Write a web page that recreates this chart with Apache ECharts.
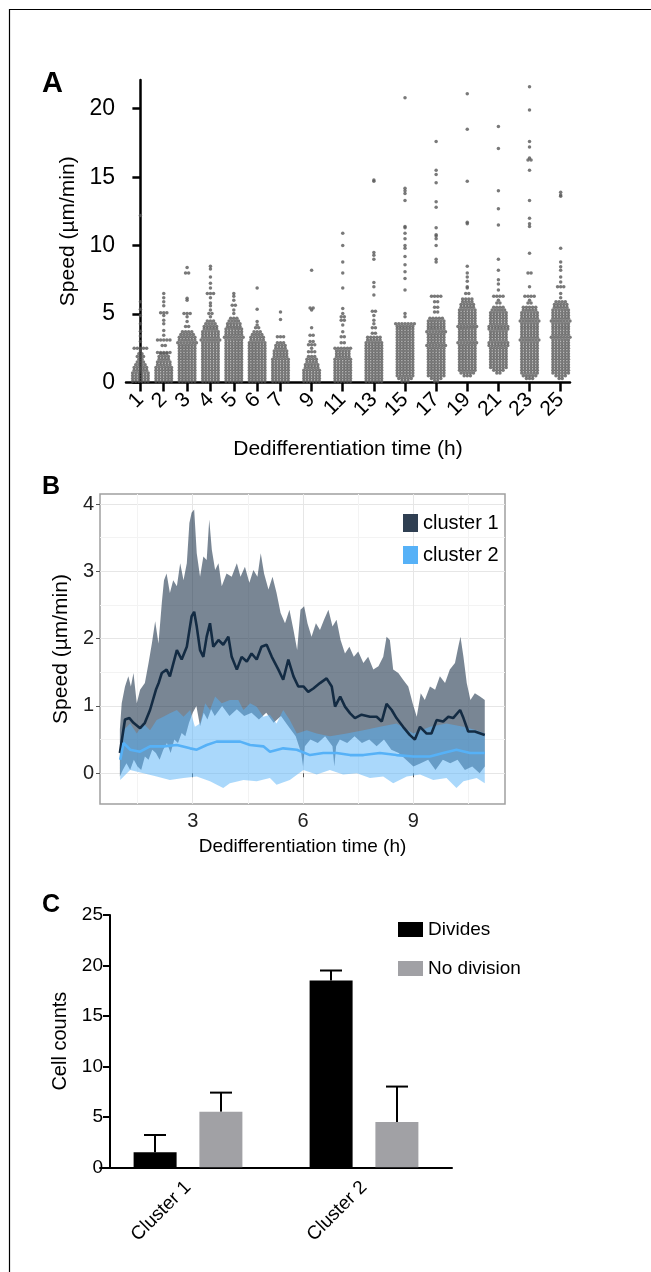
<!DOCTYPE html>
<html>
<head>
<meta charset="utf-8">
<script src="https://cdn.jsdelivr.net/npm/echarts@6/dist/echarts.min.js"></script>
<style>
html, body { margin: 0; padding: 0; background: #fff; }
#chart { width: 651px; height: 1272px; }
</style>
</head>
<body>
<div id="chart"></div>
<script>
// ---------- A: speed of each cell per time point ----------
const hourLabels = ['1', '2', '3', '4', '5', '6', '7', '9', '11', '13', '15', '17', '19', '21', '23', '25'];
const hourPos = [0, 3, 6, 9, 12, 15, 18, 22, 26, 30, 34, 38, 42, 46, 50, 54];
// speed levels of the packed rows (um/min)
const binLevels = [0.1, 0.3, 0.5, 0.7, 0.9, 1.1, 1.3, 1.5, 1.7, 1.9, 2.1, 2.3, 2.5, 2.7, 2.9,
  3.1, 3.3, 3.5, 3.7, 3.9, 4.1, 4.3, 4.5, 4.7, 4.9, 5.1, 5.3, 5.5, 5.7, 5.9, 6.1];
// number of cells in each row, one list per time point
const denseCounts = [
  [6, 6, 6, 6, 5, 5, 4, 3, 2, 3, 2, 1],                                   // 1 h
  [6, 6, 6, 6, 6, 6, 5, 5, 4, 4, 3],                                      // 2 h
  [6, 6, 6, 6, 6, 6, 6, 6, 6, 6, 6, 6, 6, 6, 7, 6, 6, 5, 4],              // 3 h
  [6, 6, 6, 6, 6, 6, 6, 6, 6, 6, 6, 6, 6, 6, 6, 7, 6, 6, 6, 5, 5, 4, 3],  // 4 h
  [6, 6, 6, 6, 6, 6, 6, 6, 6, 6, 6, 6, 6, 6, 6, 6, 7, 6, 6, 6, 5, 5, 4, 3], // 5 h
  [6, 6, 6, 6, 6, 6, 6, 6, 6, 6, 6, 6, 6, 6, 6, 5, 5, 4, 3],              // 6 h
  [6, 6, 6, 6, 6, 6, 6, 6, 6, 5, 5, 5, 4, 4, 3],                          // 7 h
  [6, 6, 6, 6, 6, 5, 5, 4, 4, 3],                                         // 9 h
  [6, 6, 6, 6, 6, 6, 6, 6, 6, 5, 5, 5, 6],                                // 11 h
  [6, 6, 6, 6, 6, 6, 6, 6, 6, 6, 6, 6, 6, 6, 6, 5, 5],                    // 13 h
  [3, 5, 6, 6, 6, 6, 6, 6, 6, 6, 6, 6, 6, 6, 6, 6, 6, 6, 6, 6, 6, 7],     // 15 h
  [2, 4, 6, 6, 6, 6, 6, 6, 6, 6, 6, 6, 6, 7, 6, 6, 6, 6, 7, 6, 6, 6, 6, 5], // 17 h
  [0, 0, 3, 5, 6, 6, 6, 6, 6, 6, 6, 6, 6, 6, 7, 6, 6, 6, 6, 6, 7, 6, 6, 6, 6, 6, 6, 5, 5, 4, 4], // 19 h
  [0, 0, 0, 2, 4, 6, 6, 6, 6, 6, 6, 6, 6, 7, 7, 6, 6, 6, 6, 7, 7, 6, 6, 6, 6, 6, 5, 4],       // 21 h
  [0, 3, 5, 6, 6, 6, 6, 6, 6, 6, 6, 6, 6, 6, 6, 7, 6, 6, 6, 6, 6, 6, 7, 6, 6, 6, 5, 5],       // 23 h
  [0, 2, 4, 6, 6, 6, 6, 6, 6, 6, 6, 6, 6, 6, 6, 6, 7, 6, 6, 6, 6, 6, 7, 6, 6, 6, 6, 5, 5, 4]  // 25 h
];
// cells above the packed part
const sparseSpeeds = [
  [2.5, 2.5, 2.5, 2.5, 2.5, 3.0, 3.4, 3.75, 4.3, 4.9, 5.35, 5.9, 12.2],
  [2.2, 2.2, 2.2, 2.2, 2.2, 2.7, 2.7, 3.1, 3.1, 3.1, 3.1, 3.1, 3.45, 3.8, 4.3, 4.55, 4.9, 5.1, 5.1, 5.1, 5.6, 5.9, 6.2, 6.5],
  [4.1, 4.1, 4.45, 4.8, 5.05, 5.05, 5.05, 6.0, 6.15, 8.0, 8.0, 8.4],
  [4.8, 5.05, 5.05, 5.3, 5.6, 5.8, 6.2, 6.5, 6.5, 6.5, 6.9, 7.25, 7.7, 8.3, 8.5],
  [5.05, 5.3, 5.65, 5.65, 6.0, 6.3, 6.5],
  [4.0, 4.0, 4.2, 4.45, 5.35, 6.9],
  [3.35, 3.35, 3.35, 4.6, 5.15],
  [2.25, 2.25, 2.25, 2.5, 2.75, 2.75, 2.75, 3.0, 3.0, 3.45, 3.45, 4.0, 5.3, 5.45, 5.45, 8.2],
  [2.9, 2.9, 3.35, 3.35, 3.7, 4.2, 4.55, 4.55, 4.8, 4.8, 5.05, 5.4, 6.9, 8.0, 8.8, 10.0, 10.9],
  [3.6, 3.6, 4.0, 4.0, 4.3, 4.55, 4.9, 5.2, 5.2, 6.4, 7.0, 7.3, 9.0, 9.3, 9.5, 14.7, 14.8],
  [4.8, 5.05, 6.75, 7.6, 8.1, 8.6, 9.2, 9.8, 10.0, 10.5, 10.9, 11.3, 11.4, 13.3, 13.8, 14.0, 14.2, 20.8],
  [5.15, 5.15, 5.5, 5.5, 5.9, 5.9, 6.3, 6.3, 6.3, 6.3, 8.8, 9.0, 10.0, 10.5, 10.7, 10.8, 11.3, 12.8, 13.2, 14.6, 15.2, 15.5, 17.6],
  [6.5, 6.5, 6.9, 7.0, 7.4, 7.7, 8.0, 8.5, 11.6, 11.7, 14.7, 18.5, 21.1],
  [5.8, 5.8, 6.0, 6.3, 6.3, 6.3, 6.3, 6.75, 7.2, 7.5, 8.2, 9.0, 11.5, 12.7, 14.0, 17.1, 18.7],
  [5.8, 5.8, 6.0, 6.3, 6.3, 6.3, 6.3, 7.0, 8.0, 8.0, 9.45, 11.4, 11.6, 12.0, 13.3, 15.5, 16.25, 16.25, 16.4, 17.2, 17.6, 19.9, 21.6],
  [6.2, 6.5, 7.0, 7.0, 7.0, 7.35, 7.7, 8.2, 8.45, 8.8, 9.8, 13.6, 13.7, 13.9]
];

// ---------- B: mean speed with spread, per cluster ----------
const c1Mean = [[1.02, 0.30], [1.16, 0.80], [1.28, 0.82], [1.39, 0.75], [1.57, 0.67], [1.70, 0.75], [1.84, 0.94],
  [2.00, 1.24], [2.08, 1.35], [2.16, 1.49], [2.29, 1.54], [2.38, 1.44], [2.57, 1.83], [2.70, 1.69], [2.84, 1.88],
  [2.97, 2.33], [3.04, 2.40], [3.11, 2.18], [3.20, 1.83], [3.29, 1.73], [3.38, 2.03], [3.47, 2.23], [3.56, 1.88],
  [3.70, 1.98], [3.83, 1.91], [3.97, 2.03], [4.06, 1.73], [4.20, 1.54], [4.33, 1.73], [4.47, 1.66], [4.60, 1.78],
  [4.74, 1.69], [4.87, 1.88], [5.01, 1.91], [5.15, 1.73], [5.33, 1.54], [5.46, 1.39], [5.60, 1.69], [5.74, 1.44],
  [5.87, 1.29], [6.01, 1.29], [6.14, 1.21], [6.28, 1.26], [6.46, 1.34], [6.64, 1.41], [6.78, 1.29], [6.87, 0.99],
  [7.01, 1.14], [7.14, 0.99], [7.28, 0.89], [7.41, 0.82], [7.59, 0.87], [7.82, 0.84], [8.00, 0.84], [8.14, 0.77],
  [8.27, 1.03], [8.41, 0.94], [8.54, 0.82], [8.72, 0.69], [8.90, 0.57], [9.04, 0.50], [9.18, 0.69], [9.36, 0.59],
  [9.49, 0.59], [9.63, 0.79], [9.81, 0.77], [9.95, 0.84], [10.08, 0.82], [10.27, 0.94], [10.36, 0.82], [10.49, 0.62],
  [10.67, 0.62], [10.94, 0.57]];
const c1Upper = [[1.02, 0.65], [1.07, 1.04], [1.16, 1.29], [1.25, 1.44], [1.32, 1.29], [1.39, 1.49], [1.48, 1.04],
  [1.57, 1.24], [1.70, 1.34], [1.80, 1.64], [1.89, 1.93], [1.98, 2.26], [2.07, 1.93], [2.16, 2.53], [2.22, 2.87],
  [2.29, 2.97], [2.38, 2.68], [2.47, 2.87], [2.57, 2.78], [2.66, 3.12], [2.75, 2.87], [2.84, 3.12], [2.91, 3.72],
  [2.97, 3.87], [3.04, 3.92], [3.11, 3.27], [3.20, 2.92], [3.29, 3.22], [3.38, 3.17], [3.45, 3.77], [3.52, 3.32],
  [3.61, 3.02], [3.70, 3.12], [3.79, 2.78], [3.92, 2.97], [4.06, 2.92], [4.20, 3.12], [4.30, 2.92], [4.42, 3.07],
  [4.54, 2.83], [4.65, 3.02], [4.76, 2.92], [4.85, 3.27], [4.94, 2.97], [5.06, 2.73], [5.17, 2.92], [5.28, 2.68],
  [5.39, 2.38], [5.51, 2.23], [5.63, 2.43], [5.74, 2.13], [5.84, 1.83], [5.93, 2.43], [6.03, 2.48], [6.12, 2.23],
  [6.23, 2.03], [6.35, 2.23], [6.46, 2.13], [6.57, 2.28], [6.69, 2.43], [6.80, 2.18], [6.91, 2.28], [7.02, 1.98],
  [7.14, 1.78], [7.26, 1.88], [7.38, 1.73], [7.50, 1.81], [7.64, 1.64], [7.77, 1.73], [7.91, 1.54], [8.05, 1.59],
  [8.18, 1.73], [8.27, 2.03], [8.36, 1.98], [8.45, 1.54], [8.59, 1.49], [8.72, 1.39], [8.86, 1.29], [8.98, 1.04],
  [9.09, 0.84], [9.20, 1.19], [9.31, 1.09], [9.45, 1.29], [9.59, 1.24], [9.72, 1.44], [9.86, 1.34], [9.99, 1.54],
  [10.13, 1.64], [10.22, 1.88], [10.28, 2.03], [10.36, 1.73], [10.45, 1.34], [10.55, 1.09], [10.67, 1.19],
  [10.81, 1.14], [10.94, 1.09]];
const c1Lower = [[1.02, -0.05], [1.1, 0.05], [1.2, 0.15], [1.3, 0.05], [1.4, 0.2], [1.5, 0.1], [1.6, 0.05], [1.7, 0.25],
  [1.8, 0.2], [1.9, 0.35], [2.0, 0.3], [2.1, 0.2], [2.2, 0.35], [2.3, 0.45], [2.4, 0.3], [2.5, 0.5], [2.6, 0.45],
  [2.7, 0.6], [2.8, 0.55], [2.9, 0.75], [3.0, 0.9], [3.1, 1.0], [3.2, 0.7], [3.3, 0.9], [3.4, 0.8], [3.5, 0.95],
  [3.6, 0.85], [3.8, 1.0], [4.0, 0.85], [4.2, 0.95], [4.4, 0.85], [4.6, 0.9], [4.8, 0.8], [5.0, 0.9], [5.2, 0.75],
  [5.4, 0.85], [5.6, 0.7], [5.8, 0.55], [5.95, 0.3], [6.0, 0.1], [6.05, 0.4], [6.2, 0.5], [6.4, 0.45], [6.6, 0.55],
  [6.8, 0.4], [6.85, 0.1], [6.9, 0.4], [7.0, 0.5], [7.2, 0.45], [7.4, 0.55], [7.6, 0.45], [7.8, 0.5], [8.0, 0.4],
  [8.2, 0.5], [8.4, 0.35], [8.6, 0.3], [8.8, 0.2], [9.0, 0.1], [9.2, 0.15], [9.4, 0.2], [9.6, 0.05], [9.8, 0.2],
  [10.0, 0.15], [10.2, 0.2], [10.4, 0.05], [10.6, 0.1], [10.8, 0.0], [10.94, 0.1]];
const c2Mean = [[1.03, 0.20], [1.12, 0.45], [1.30, 0.35], [1.57, 0.32], [1.84, 0.40], [2.20, 0.40], [2.57, 0.42],
  [2.93, 0.37], [3.11, 0.35], [3.38, 0.42], [3.65, 0.47], [4.01, 0.47], [4.29, 0.47], [4.56, 0.42], [4.92, 0.40],
  [5.10, 0.32], [5.46, 0.37], [5.83, 0.35], [6.19, 0.27], [6.55, 0.30], [6.91, 0.30], [7.28, 0.27], [7.64, 0.27],
  [8.09, 0.30], [8.54, 0.27], [9.00, 0.25], [9.45, 0.25], [9.81, 0.30], [10.17, 0.35], [10.54, 0.30], [10.94, 0.30]];
const c2Upper = [[1.03, 0.40], [1.12, 0.64], [1.30, 0.74], [1.48, 0.59], [1.66, 0.74], [1.84, 0.64], [2.02, 0.79],
  [2.20, 0.84], [2.38, 0.89], [2.57, 0.94], [2.75, 0.84], [2.93, 0.94], [3.06, 0.69], [3.20, 0.74], [3.34, 1.04],
  [3.47, 0.94], [3.61, 1.14], [3.79, 1.04], [4.01, 1.09], [4.24, 1.09], [4.38, 0.94], [4.56, 1.04], [4.74, 0.99],
  [4.92, 0.84], [5.10, 0.87], [5.28, 0.74], [5.46, 0.94], [5.64, 0.79], [5.83, 0.59], [6.10, 0.64], [6.37, 0.59],
  [6.73, 0.55], [7.18, 0.59], [7.64, 0.64], [8.09, 0.69], [8.54, 0.74], [9.00, 0.59], [9.45, 0.69], [9.90, 0.74],
  [10.36, 0.69], [10.72, 0.64], [10.94, 0.59]];
const c2Lower = [[1.03, -0.10], [1.30, 0.05], [1.66, 0.00], [2.02, -0.05], [2.38, -0.10], [2.75, -0.07], [3.11, -0.05],
  [3.47, -0.12], [3.83, -0.22], [4.01, -0.15], [4.38, -0.10], [4.74, -0.12], [5.10, -0.07], [5.28, -0.17],
  [5.64, -0.10], [6.01, 0.05], [6.37, -0.02], [6.73, 0.05], [7.09, -0.02], [7.46, 0.00], [7.82, -0.07],
  [8.18, -0.05], [8.45, -0.15], [8.82, -0.05], [9.18, -0.02], [9.54, -0.10], [9.90, -0.07], [10.17, -0.22],
  [10.36, -0.12], [10.72, -0.07], [10.94, -0.15]];

// ---------- C: cell counts ----------
const clusterNames = ['Cluster 1', 'Cluster 2'];
const divMean = [1.5, 18.5];
const divSD = [1.7, 1.0];
const noDivMean = [5.5, 4.5];
const noDivSD = [1.9, 3.5];

const FONT = '"Liberation Sans", Arial, Helvetica, sans-serif';
const DOT_STEP = 0.4;   // horizontal spacing of packed dots, x units
const BAR_W = 43;
const BAR_SHIFT = 33;   // half distance between the two bars of a group

function pushRow(pts, pos, v, n) {
  for (let k = 0; k < n; k++) pts.push([pos + (k - (n - 1) / 2) * DOT_STEP, v]);
}

function swarmPoints() {
  const pts = [];
  hourPos.forEach((pos, c) => {
    denseCounts[c].forEach((n, r) => pushRow(pts, pos, binLevels[r], n));
    const groups = new Map();
    sparseSpeeds[c].forEach(v => groups.set(v, (groups.get(v) || 0) + 1));
    groups.forEach((n, v) => pushRow(pts, pos, v, n));
  });
  return pts;
}

function ribbon(upper, lower, fill) {
  return function (params, api) {
    if (params.dataIndex !== 0) return;
    const pts = upper.map(p => api.coord(p))
      .concat(lower.slice().reverse().map(p => api.coord(p)));
    return { type: 'polygon', shape: { points: pts }, style: { fill: fill } };
  };
}

function errorBar(shift) {
  return function (params, api) {
    const cat = api.value(0);
    const base = api.coord([cat, api.value(1)]);
    const top = api.coord([cat, api.value(1) + api.value(2)]);
    const x = base[0] + shift;
    const st = { stroke: '#000', lineWidth: 2 };
    return {
      type: 'group',
      children: [
        { type: 'line', shape: { x1: x, y1: base[1], x2: x, y2: top[1] }, style: st },
        { type: 'line', shape: { x1: x - 11, y1: top[1], x2: x + 11, y2: top[1] }, style: st }
      ]
    };
  };
}

const chart = echarts.init(document.getElementById('chart'), null, { renderer: 'canvas' });

const option = {
  animation: false,
  backgroundColor: '#fff',
  textStyle: { fontFamily: FONT },
  graphic: [
    { type: 'polyline', shape: { points: [[9.5, 1272], [9.5, 9.5], [651, 9.5]] }, style: { stroke: '#000', lineWidth: 1.2, fill: null } },
    { type: 'text', left: 42, top: 69, style: { text: 'A', font: 'bold 29px ' + FONT, fill: '#000' } },
    { type: 'text', left: 42, top: 475, style: { text: 'B', font: 'bold 25px ' + FONT, fill: '#000' } },
    { type: 'text', left: 42, top: 893, style: { text: 'C', font: 'bold 25px ' + FONT, fill: '#000' } }
  ],
  legend: [
    {
      left: 403, top: 513, padding: 0, orient: 'vertical', itemWidth: 15, itemHeight: 18, itemGap: 12,
      icon: 'rect', textStyle: { fontSize: 20, color: '#000', fontFamily: FONT },
      data: [
        { name: 'cluster 1', itemStyle: { color: '#2f3f52' } },
        { name: 'cluster 2', itemStyle: { color: '#56b1f7' } }
      ]
    },
    {
      left: 398, top: 920, padding: 0, orient: 'vertical', itemWidth: 25, itemHeight: 15, itemGap: 20,
      icon: 'rect', textStyle: { fontSize: 19, color: '#000', fontFamily: FONT },
      data: ['Divides', 'No division']
    }
  ],
  grid: [
    { left: 126, top: 80, width: 444, height: 302.5 },
    { left: 100, top: 494, width: 405, height: 310, show: true, borderColor: '#a0a0a0', borderWidth: 1.5, backgroundColor: '#fff' },
    { left: 100, top: 915, width: 352, height: 252.3 }
  ],
  xAxis: [
    {
      gridIndex: 0, type: 'value', min: -1.85, max: 55.2,
      axisLine: { lineStyle: { color: '#000', width: 2.5 } },
      axisTick: { customValues: hourPos, length: 9, lineStyle: { color: '#000', width: 2.5 } },
      axisLabel: {
        customValues: hourPos, rotate: 45, margin: 14, fontSize: 21, color: '#000',
        formatter: v => hourLabels[hourPos.indexOf(v)]
      },
      splitLine: { show: false },
      name: 'Dedifferentiation time (h)', nameLocation: 'middle', nameGap: 56,
      nameTextStyle: { fontSize: 21, color: '#000' }
    },
    {
      gridIndex: 1, type: 'value', min: 0.48, max: 11.49,
      axisLine: { show: false },
      axisTick: { customValues: [3, 6, 9], length: 4, lineStyle: { color: '#555' } },
      axisLabel: { customValues: [3, 6, 9], fontSize: 20, color: '#222', margin: 7 },
      splitLine: { show: true, lineStyle: { color: '#e6e6e6', width: 1 } },
      name: 'Dedifferentiation time (h)', nameLocation: 'middle', nameGap: 33,
      nameTextStyle: { fontSize: 19, color: '#000' }
    },
    {
      gridIndex: 1, type: 'value', min: 0.48, max: 11.49,
      axisLine: { show: false }, axisLabel: { show: false },
      axisTick: { show: false, customValues: [1.5, 4.5, 7.5, 10.5] },
      splitLine: { show: true, lineStyle: { color: '#f3f3f3', width: 1 } }
    },
    {
      gridIndex: 2, type: 'category', data: clusterNames,
      axisLine: { lineStyle: { color: '#000', width: 2 } },
      axisTick: { alignWithLabel: true, length: 8, lineStyle: { color: '#000', width: 2 } },
      axisLabel: { rotate: 45, margin: 17, fontSize: 19, color: '#000' }
    }
  ],
  yAxis: [
    {
      gridIndex: 0, type: 'value', min: 0, max: 22.1,
      axisLine: { show: true, lineStyle: { color: '#000', width: 2.5 } },
      axisTick: { show: true, customValues: [0, 5, 10, 15, 20], length: 8, lineStyle: { color: '#000', width: 2.5 } },
      axisLabel: { customValues: [0, 5, 10, 15, 20], fontSize: 23, color: '#000', margin: 11 },
      splitLine: { show: false },
      name: 'Speed (µm/min)', nameLocation: 'middle', nameGap: 37,
      nameTextStyle: { fontSize: 21, color: '#000' }
    },
    {
      gridIndex: 1, type: 'value', min: -0.457, max: 4.15,
      axisLine: { show: false },
      axisTick: { show: true, customValues: [0, 1, 2, 3, 4], length: 4, lineStyle: { color: '#555' } },
      axisLabel: { customValues: [0, 1, 2, 3, 4], fontSize: 20, color: '#222', margin: 6 },
      splitLine: { show: true, lineStyle: { color: '#e6e6e6', width: 1 } },
      name: 'Speed (µm/min)', nameLocation: 'middle', nameGap: 27,
      nameTextStyle: { fontSize: 21, color: '#000' }
    },
    {
      gridIndex: 1, type: 'value', min: -0.457, max: 4.15,
      axisLine: { show: false }, axisLabel: { show: false },
      axisTick: { show: false, customValues: [0.5, 1.5, 2.5, 3.5] },
      splitLine: { show: true, lineStyle: { color: '#f3f3f3', width: 1 } }
    },
    {
      gridIndex: 2, type: 'value', min: 0, max: 25, interval: 5, offset: -10,
      axisLine: { show: true, lineStyle: { color: '#000', width: 2 } },
      axisTick: { show: true, length: 7, lineStyle: { color: '#000', width: 2 } },
      axisLabel: { fontSize: 19, color: '#000', margin: 7 },
      splitLine: { show: false },
      name: 'Cell counts', nameLocation: 'middle', nameGap: 33,
      nameTextStyle: { fontSize: 20, color: '#000' }
    }
  ],
  series: [
    {
      type: 'scatter', xAxisIndex: 0, yAxisIndex: 0, silent: true,
      symbolSize: 3.5, itemStyle: { color: '#585858' },
      data: swarmPoints()
    },
    {
      name: 'cluster 1', type: 'custom', xAxisIndex: 1, yAxisIndex: 1, silent: true,
      itemStyle: { color: 'rgba(19,43,67,0.57)' },
      renderItem: ribbon(c1Upper, c1Lower, 'rgba(19,43,67,0.57)'),
      encode: { x: 0, y: 1 }, data: [c1Upper[0]]
    },
    {
      name: 'cluster 2', type: 'custom', xAxisIndex: 1, yAxisIndex: 1, silent: true,
      itemStyle: { color: 'rgba(86,177,247,0.5)' },
      renderItem: ribbon(c2Upper, c2Lower, 'rgba(86,177,247,0.5)'),
      encode: { x: 0, y: 1 }, data: [c2Upper[0]]
    },
    {
      name: 'cluster 1', type: 'line', xAxisIndex: 1, yAxisIndex: 1, showSymbol: false,
      lineStyle: { color: '#132b43', width: 2.6 }, itemStyle: { color: '#132b43' },
      data: c1Mean
    },
    {
      name: 'cluster 2', type: 'line', xAxisIndex: 1, yAxisIndex: 1, showSymbol: false,
      lineStyle: { color: '#56b1f7', width: 2.6 }, itemStyle: { color: '#56b1f7' },
      data: c2Mean
    },
    {
      name: 'Divides', type: 'bar', xAxisIndex: 3, yAxisIndex: 3,
      barWidth: BAR_W, barGap: '53%', itemStyle: { color: '#000' },
      data: divMean
    },
    {
      name: 'No division', type: 'bar', xAxisIndex: 3, yAxisIndex: 3,
      barWidth: BAR_W, barGap: '53%', itemStyle: { color: '#a1a1a5' },
      data: noDivMean
    },
    {
      name: 'Divides', type: 'custom', xAxisIndex: 3, yAxisIndex: 3, silent: true,
      renderItem: errorBar(-BAR_SHIFT), encode: { x: 0, y: 1 },
      data: divMean.map((m, i) => [i, m, divSD[i]])
    },
    {
      name: 'No division', type: 'custom', xAxisIndex: 3, yAxisIndex: 3, silent: true,
      renderItem: errorBar(BAR_SHIFT), encode: { x: 0, y: 1 },
      data: noDivMean.map((m, i) => [i, m, noDivSD[i]])
    }
  ]
};

chart.setOption(option);
</script>
</body>
</html>
